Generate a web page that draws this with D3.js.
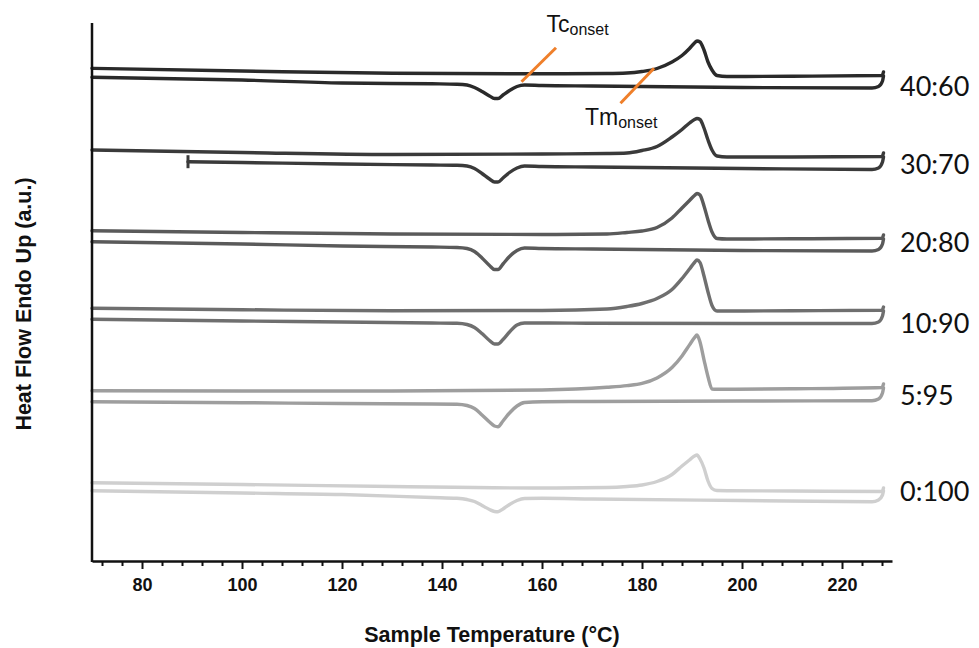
<!DOCTYPE html>
<html>
<head>
<meta charset="utf-8">
<script src="https://cdn.jsdelivr.net/npm/d3@7"></script>
<style>
  body { margin: 0; background: #fff; }
</style>
</head>
<body>
<div id="chart"></div>
<script>
// Sample labels (PP:blend ratio), top to bottom
const samples = ["40:60", "30:70", "20:80", "10:90", "5:95", "0:100"]

// Heating scans (endotherm up), temperatures in °C
const heatT = [70, 100, 130, 160, 173, 177, 180, 183, 186, 188, 189.5, 190.5, 191, 191.6, 192.4, 193.2, 194, 195, 197, 210, 228, 228.3]
const heat_4060 = [49.27, 49.0, 48.77, 48.72, 48.75, 48.8, 48.95, 49.25, 49.9, 50.55, 51.25, 51.8, 52.0, 51.9, 51.1, 49.9, 49.1, 48.55, 48.45, 48.48, 48.55, 48.9]
const heat_3070 = [41.1, 40.85, 40.65, 40.7, 40.75, 40.8, 41.05, 41.45, 42.4, 43.15, 43.8, 44.15, 44.25, 44.15, 43.3, 42.1, 41.1, 40.5, 40.4, 40.4, 40.45, 40.8]
const heat_2080 = [33.03, 32.85, 32.7, 32.65, 32.7, 32.85, 33.0, 33.35, 34.3, 35.3, 36.05, 36.55, 36.75, 36.6, 35.5, 34.1, 32.9, 32.25, 32.2, 32.22, 32.27, 32.6]
const heat_1090 = [25.27, 25.13, 25.02, 25.05, 25.2, 25.45, 25.75, 26.25, 27.15, 28.25, 29.2, 29.85, 30.1, 29.85, 28.5, 26.9, 25.55, 25.0, 25.0, 25.03, 25.08, 25.4]
const heat_595 = [17.03, 17.0, 17.0, 17.1, 17.37, 17.54, 17.76, 18.31, 19.35, 20.51, 21.61, 22.33, 22.6, 21.9, 20.12, 18.42, 17.2, 17.17, 17.17, 17.22, 17.35, 17.7]
const heat_0100 = [7.83, 7.65, 7.45, 7.3, 7.35, 7.45, 7.6, 7.95, 8.65, 9.5, 10.1, 10.5, 10.6, 10.2, 9.3, 8.0, 7.25, 7.05, 7.03, 7.0, 6.95, 7.3]

// Cooling scans (exotherm down), recorded from high to low temperature
const coolT = [228.3, 228.1, 227.3, 226, 200, 170, 160, 156.5, 155, 153.5, 152.2, 151.2, 150.5, 149.5, 148, 146.5, 145, 143, 138, 120, 100, 70]
const coolEnd = [70, 89.2, 70, 70, 70, 70]   // last recorded temperature
const cool_4060 = [48.5, 48.0, 47.45, 47.3, 47.35, 47.5, 47.55, 47.6, 47.45, 47.05, 46.6, 46.25, 46.25, 46.5, 46.95, 47.35, 47.6, 47.68, 47.72, 47.8, 48.1, 48.37]
const cool_3070 = [40.4, 39.9, 39.3, 39.15, 39.25, 39.4, 39.45, 39.5, 39.3, 38.85, 38.3, 37.9, 37.9, 38.2, 38.75, 39.25, 39.5, 39.57, 39.6, 39.7, 39.85, 39.93]
const cool_2080 = [32.2, 31.7, 31.15, 31.0, 31.05, 31.2, 31.25, 31.3, 31.05, 30.45, 29.7, 29.15, 29.15, 29.55, 30.3, 30.95, 31.25, 31.35, 31.4, 31.5, 31.7, 31.93]
const cool_1090 = [25.0, 24.5, 23.9, 23.75, 23.75, 23.77, 23.8, 23.8, 23.6, 22.9, 22.15, 21.7, 21.7, 22.05, 22.75, 23.35, 23.65, 23.77, 23.8, 23.9, 24.0, 24.17]
const cool_595 = [17.3, 16.8, 16.2, 16.03, 16.0, 15.95, 15.93, 15.85, 15.5, 14.8, 14.0, 13.43, 13.5, 13.9, 14.6, 15.25, 15.55, 15.68, 15.7, 15.75, 15.83, 15.93]
const cool_0100 = [7.0, 6.6, 6.1, 5.93, 6.05, 6.2, 6.27, 6.25, 6.05, 5.65, 5.2, 4.93, 4.95, 5.15, 5.55, 5.95, 6.15, 6.27, 6.35, 6.65, 6.8, 7.03]

// Onset annotations on the 40:60 curves
const annoNames = ["Tc", "Tm"]
const annoT = [[162.8, 155.9], [182.4, 175.7]]
const annoV = [[51.33, 47.93], [49.27, 45.77]]
const annoTextT = [160.9, 168.6]
const annoTextV = [52.87, 43.6]

// Axis ticks
const tickT = d3.range(72, 229, 4)

// ---- layout ----
const W = 979, H = 648
const colors = ["#2a2a2a", "#3a3a3a", "#5a5a5a", "#6f6f6f", "#9e9e9e", "#cfcfcf"]
const labelDy = [20, 17, 14, 23, 17, 9]
const heats = [heat_4060, heat_3070, heat_2080, heat_1090, heat_595, heat_0100]
const cools = [cool_4060, cool_3070, cool_2080, cool_1090, cool_595, cool_0100]

const x = d3.scaleLinear().domain([70, 230]).range([92, 892])
const y = d3.scaleLinear().domain([0, 54]).range([561, 21])

const svg = d3.select("#chart").append("svg")
    .attr("width", W)
    .attr("height", H)
    .style("font-family", "'Liberation Sans', Arial, sans-serif")

const line = d3.line()
    .x(d => x(d[0]))
    .y(d => y(d[1]))
    .curve(d3.curveMonotoneX)

samples.forEach((s, i) => {
    let heat = heatT.map((t, j) => [t, heats[i][j]])
    let coolTemps = coolT.slice()
    coolTemps[coolTemps.length - 1] = coolEnd[i]
    let cool = coolTemps.map((t, j) => [t, cools[i][j]])

    let g = svg.append("g").attr("class", "sample")
    g.append("path").datum(heat)
        .attr("fill", "none")
        .attr("stroke", colors[i])
        .attr("stroke-width", 3.4)
        .attr("stroke-linejoin", "round")
        .attr("stroke-linecap", "round")
        .attr("d", line)
    g.append("path").datum(cool.slice().reverse())
        .attr("fill", "none")
        .attr("stroke", colors[i])
        .attr("stroke-width", 3.4)
        .attr("stroke-linejoin", "round")
        .attr("stroke-linecap", "round")
        .attr("d", line)

    // scan that stops early gets an end mark
    if (coolEnd[i] > 70) {
        let last = cool[cool.length - 1]
        g.append("line")
            .attr("x1", x(last[0])).attr("x2", x(last[0]))
            .attr("y1", y(last[1]) - 6.5).attr("y2", y(last[1]) + 6.5)
            .attr("stroke", colors[i])
            .attr("stroke-width", 3)
    }

    g.append("text")
        .attr("x", 900)
        .attr("y", y(heats[i][heats[i].length - 2]) + labelDy[i])
        .attr("font-family", "Lato, 'Open Sans', sans-serif")
        .attr("font-size", 27)
        .attr("fill", "#111")
        .text(s)
})

// onset markers
annoNames.forEach((n, i) => {
    svg.append("line")
        .attr("x1", x(annoT[i][0])).attr("y1", y(annoV[i][0]))
        .attr("x2", x(annoT[i][1])).attr("y2", y(annoV[i][1]))
        .attr("stroke", "#ef7f2a")
        .attr("stroke-width", 3)
    let t = svg.append("text")
        .attr("x", x(annoTextT[i]))
        .attr("y", y(annoTextV[i]))
        .attr("fill", "#111")
    t.append("tspan").attr("font-size", 23).text(n)
    t.append("tspan").attr("font-size", 16).attr("dy", 3).text("onset")
})

// x axis
const xAxis = d3.axisBottom(x)
    .tickValues(tickT)
    .tickFormat(d => d % 20 === 0 ? d : "")
    .tickSizeOuter(0)

const gx = svg.append("g")
    .attr("transform", "translate(0," + y(0) + ")")
    .call(xAxis)
gx.select(".domain").attr("stroke", "#111").attr("stroke-width", 2.5)
gx.selectAll(".tick line")
    .attr("stroke", "#111")
    .attr("stroke-width", 2)
    .attr("y2", d => d % 20 === 0 ? 8 : 5)
gx.selectAll(".tick text")
    .attr("y", 30)
    .attr("dy", null)
    .attr("fill", "#111")
    .style("font-family", "'Liberation Sans', Arial, sans-serif")
    .style("font-weight", "bold")
    .style("font-size", "18px")

// y axis (no ticks)
svg.append("line")
    .attr("x1", x(70)).attr("x2", x(70))
    .attr("y1", 23).attr("y2", y(0) + 1)
    .attr("stroke", "#111")
    .attr("stroke-width", 2.5)

// axis titles
svg.append("text")
    .attr("x", 492).attr("y", 642)
    .attr("text-anchor", "middle")
    .attr("font-weight", "bold")
    .attr("font-size", 21.5)
    .attr("fill", "#111")
    .text("Sample Temperature (°C)")

svg.append("text")
    .attr("transform", "translate(31,304) rotate(-90)")
    .attr("text-anchor", "middle")
    .attr("font-weight", "bold")
    .attr("font-size", 21.5)
    .attr("fill", "#111")
    .text("Heat Flow Endo Up (a.u.)")
</script>
</body>
</html>
